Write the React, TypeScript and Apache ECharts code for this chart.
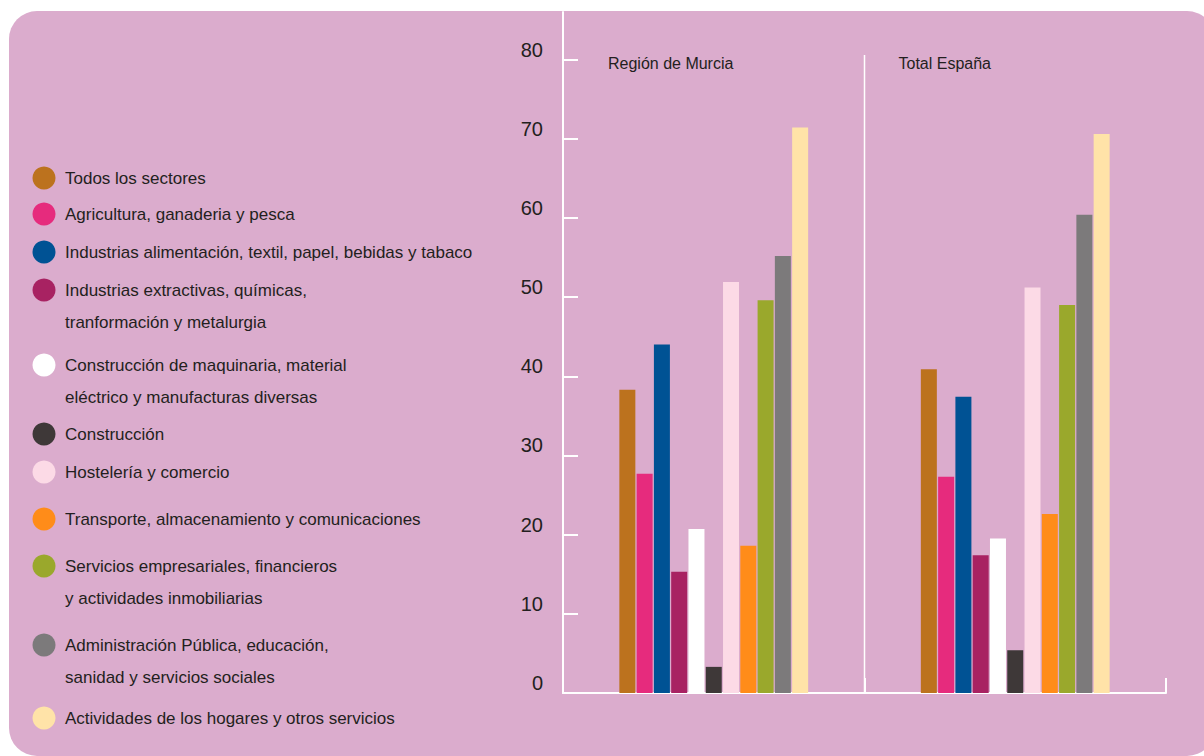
import React, { useEffect, useRef } from "react";
import * as echarts from "echarts";

const categories = ["Región de Murcia", "Total España"];

const sectors = [
  "Todos los sectores",
  "Agricultura, ganaderia y pesca",
  "Industrias alimentación, textil, papel, bebidas y tabaco",
  "Industrias extractivas, químicas,\ntranformación y metalurgia",
  "Construcción de maquinaria, material\neléctrico y manufacturas diversas",
  "Construcción",
  "Hostelería y comercio",
  "Transporte, almacenamiento y comunicaciones",
  "Servicios empresariales, financieros\ny actividades inmobiliarias",
  "Administración Pública, educación,\nsanidad y servicios sociales",
  "Actividades de los hogares y otros servicios",
];

const murciaValues = [38.3, 27.7, 44.0, 15.3, 20.7, 3.3, 51.9, 18.6, 49.6, 55.2, 71.4];
const espanaValues = [40.9, 27.3, 37.4, 17.4, 19.5, 5.4, 51.2, 22.6, 49.0, 60.4, 70.6];

const yTickLabels = [0, 10, 20, 30, 40, 50, 60, 70, 80];

// styles / layout (not data)
const colors = [
  "#bc721e",
  "#e62b7d",
  "#005294",
  "#a82262",
  "#ffffff",
  "#3e3838",
  "#fcdae6",
  "#ff8c19",
  "#9aa82c",
  "#7c7a7b",
  "#ffe3a8",
];
const legendY = [178, 214, 252, 290, 365, 434, 472, 519, 566, 645, 718];

const TEXT = "#231f20";
const BG = "#dbaccd";
const FONT = "'Liberation Sans', Arial, sans-serif";
const GRID_LEFT = 563;
const GRID_RIGHT_X = 1166;
const AXIS_BOTTOM = 693;

export default function App() {
  const ref = useRef<HTMLDivElement>(null);

  useEffect(() => {
    document.body.style.margin = "0";
    if (!ref.current) return;
    const chart = echarts.init(ref.current, undefined, { renderer: "svg" });

    const legendGraphics: any[] = [];
    sectors.forEach((name, i) => {
      legendGraphics.push({
        type: "circle",
        shape: { cx: 44, cy: legendY[i], r: 11.5 },
        style: { fill: colors[i] },
        z: 10,
      });
      legendGraphics.push({
        type: "text",
        x: 65,
        y: legendY[i] - 16,
        style: {
          text: name,
          font: `17px ${FONT}`,
          fill: TEXT,
          lineHeight: 32,
          verticalAlign: "top",
        },
        z: 10,
      });
    });

    const dividerX = (GRID_LEFT + GRID_RIGHT_X) / 2;
    const bandWidth = (GRID_RIGHT_X - GRID_LEFT) / categories.length;

    const option: any = {
      animation: false,
      backgroundColor: "#ffffff",
      grid: {
        left: GRID_LEFT,
        right: 1204 - GRID_RIGHT_X,
        top: 12,
        bottom: 756 - AXIS_BOTTOM,
        containLabel: false,
      },
      xAxis: {
        type: "category",
        data: categories,
        axisLine: { lineStyle: { color: "#ffffff", width: 2 } },
        axisTick: { show: true, inside: true, length: 15, lineStyle: { color: "#ffffff", width: 2 } },
        axisLabel: { show: false },
        splitLine: { show: false },
      },
      yAxis: {
        type: "value",
        min: 0,
        max: 86,
        interval: 10,
        axisLine: { show: true, lineStyle: { color: "#ffffff", width: 2 } },
        axisTick: {
          show: true,
          inside: true,
          length: 15,
          lineStyle: { color: "#ffffff", width: 2 },
          customValues: yTickLabels.filter((v) => v > 0),
        },
        axisLabel: {
          customValues: yTickLabels,
          fontSize: 20,
          fontFamily: FONT,
          color: TEXT,
          margin: 20,
          verticalAlign: "bottom",
        },
        splitLine: { show: false },
      },
      series: sectors.map((name, i) => ({
        name,
        type: "bar",
        barWidth: 16,
        barGap: "8%",
        data: [murciaValues[i], espanaValues[i]],
        itemStyle: { color: colors[i] },
      })),
      graphic: [
        {
          type: "rect",
          shape: { x: 9, y: 11, width: 1206, height: 745, r: 28 },
          style: { fill: BG },
          z: -10,
          silent: true,
        },
        {
          type: "line",
          shape: { x1: dividerX, y1: 55, x2: dividerX, y2: AXIS_BOTTOM },
          style: { stroke: "#ffffff", lineWidth: 1.5 },
          z: 5,
        },
        ...categories.map((c, i) => ({
          type: "text",
          x: GRID_LEFT + bandWidth * i + 45 - (i === 1 ? 11 : 0),
          y: 63,
          style: {
            text: c,
            font: `16px ${FONT}`,
            fill: TEXT,
            verticalAlign: "middle",
          },
          z: 10,
        })),
        ...legendGraphics,
      ],
    };

    chart.setOption(option);
    return () => chart.dispose();
  }, []);

  return <div ref={ref} style={{ width: 1204, height: 756 }} />;
}
